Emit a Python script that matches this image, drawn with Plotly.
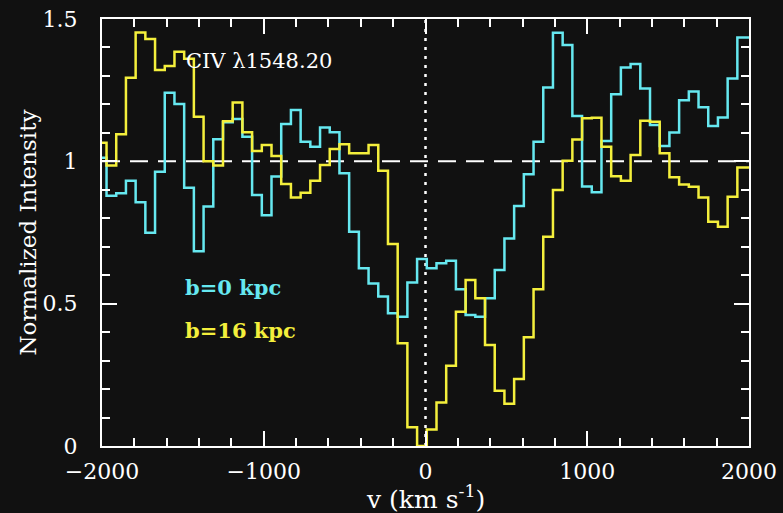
import plotly.graph_objects as go

# Left bin edges (km/s) of the spectral bins
v_edges = [-2000, -1972, -1912, -1852, -1792, -1732, -1672, -1612, -1552, -1492,
           -1432, -1372, -1312, -1252, -1192, -1132, -1072, -1012, -952, -892,
           -832, -772, -712, -652, -592, -532, -472, -412, -352, -292,
           -232, -172, -112, -52, 8, 68, 128, 188, 248, 308,
           368, 428, 488, 548, 608, 668, 728, 788, 848, 908,
           968, 1028, 1088, 1148, 1208, 1268, 1328, 1388, 1448, 1508,
           1568, 1628, 1688, 1748, 1808, 1868, 1928]
v_end = 2000

# b = 0 kpc (cyan)
flux_b0 = [1.013, 0.879, 0.888, 0.932, 0.856, 0.749, 0.963, 1.241, 1.201, 0.907,
           0.684, 0.841, 1.078, 1.137, 1.149, 1.086, 0.882, 0.811, 0.947, 1.131,
           1.180, 1.069, 1.051, 1.119, 1.102, 0.958, 0.753, 0.624, 0.571, 0.525,
           0.466, 0.454, 0.574, 0.657, 0.624, 0.642, 0.651, 0.551, 0.460, 0.454,
           0.519, 0.618, 0.729, 0.843, 0.955, 1.069, 1.259, 1.452, 1.409, 1.159,
           0.912, 0.891, 1.071, 1.236, 1.330, 1.342, 1.256, 1.128, 1.054, 1.101,
           1.215, 1.245, 1.190, 1.124, 1.154, 1.291, 1.435]

# b = 16 kpc (yellow)
flux_b16 = [1.065, 0.985, 1.095, 1.294, 1.453, 1.430, 1.321, 1.335, 1.385, 1.360,
            1.157, 1.000, 0.985, 1.141, 1.207, 1.102, 1.036, 1.057, 1.019, 0.920,
            0.873, 0.890, 0.932, 0.987, 1.043, 1.060, 1.028, 1.028, 1.057, 0.967,
            0.710, 0.361, 0.066, 0.0, 0.058, 0.153, 0.282, 0.472, 0.583, 0.519,
            0.355, 0.194, 0.148, 0.235, 0.382, 0.551, 0.735, 0.899, 1.002, 1.077,
            1.151, 1.153, 1.051, 0.948, 0.932, 1.022, 1.143, 1.139, 1.028, 0.944,
            0.919, 0.911, 0.873, 0.788, 0.770, 0.876, 0.978]

x_ticks = [-2000, -1000, 0, 1000, 2000]
y_ticks = [0, 0.5, 1, 1.5]
y_ticktext = ["0", "0.5", "1", "1.5"]

BG = "#111111"
CYAN = "#66E8F0"
YELLOW = "#F4EF3C"
FONT = "DejaVu Serif"

fig = go.Figure()

# reference lines
fig.add_trace(go.Scatter(x=[-2000, 2000], y=[1, 1], mode="lines",
                         line=dict(color="white", width=2, dash="18px,10px"),
                         hoverinfo="skip", showlegend=False))
fig.add_trace(go.Scatter(x=[0, 0], y=[0, 1.5], mode="lines",
                         line=dict(color="white", width=2.5, dash="3px,6px"),
                         hoverinfo="skip", showlegend=False))

fig.add_trace(go.Scatter(x=v_edges + [v_end], y=flux_b0 + [flux_b0[-1]],
                         mode="lines", line=dict(color=CYAN, width=2.5, shape="hv"),
                         name="b=0 kpc", showlegend=False))
fig.add_trace(go.Scatter(x=v_edges + [v_end], y=flux_b16 + [flux_b16[-1]],
                         mode="lines", line=dict(color=YELLOW, width=2.5, shape="hv"),
                         name="b=16 kpc", showlegend=False))

axis_common = dict(showgrid=False, zeroline=False, showline=True, linecolor="white",
                   linewidth=2, mirror="allticks", ticks="inside", tickcolor="white",
                   tickwidth=2, ticklen=15,
                   tickfont=dict(family=FONT, size=22, color="white"))

fig.update_xaxes(range=[-2000, 2000], tickvals=x_ticks, ticklabelstandoff=5,
                 minor=dict(dtick=200, ticks="inside", ticklen=8, tickwidth=2,
                            tickcolor="white", showgrid=False),
                 **axis_common)
fig.update_yaxes(range=[0, 1.5], tickvals=y_ticks, ticktext=y_ticktext,
                 ticklabelstandoff=18,
                 minor=dict(dtick=0.1, ticks="inside", ticklen=8, tickwidth=2,
                            tickcolor="white", showgrid=False),
                 **axis_common)

fig.update_layout(
    width=783, height=513,
    margin=dict(l=102, r=34, t=19, b=67, autoexpand=False),
    paper_bgcolor=BG, plot_bgcolor=BG,
    showlegend=False,
    annotations=[
        dict(text="CIV λ1548.20", x=-1495, y=1.352, xref="x", yref="y",
             xanchor="left", yanchor="middle", showarrow=False,
             font=dict(family=FONT, size=21, color="white")),
        dict(text="<b>b=0 kpc</b>", x=-1500, y=0.558, xref="x", yref="y",
             xanchor="left", yanchor="middle", showarrow=False,
             font=dict(family=FONT, size=21, color=CYAN)),
        dict(text="<b>b=16 kpc</b>", x=-1500, y=0.407, xref="x", yref="y",
             xanchor="left", yanchor="middle", showarrow=False,
             font=dict(family=FONT, size=21, color=YELLOW)),
        dict(text="Normalized Intensity", x=0, y=0.5, xref="paper", yref="paper",
             xshift=-75, textangle=-90, xanchor="center", yanchor="middle",
             showarrow=False, font=dict(family=FONT, size=23, color="white")),
        dict(text="v (km s<sup>-1</sup>)", x=0.5, y=0, xref="paper", yref="paper",
             yshift=-51, xanchor="center", yanchor="middle",
             showarrow=False, font=dict(family=FONT, size=25, color="white")),
    ],
)

fig.write_html(
    "out.html",
    config={"displayModeBar": False},
    post_script="document.body.style.margin='0';"
                "document.body.style.padding='0';"
                "document.body.style.background='#111111';"
                "document.documentElement.style.background='#111111';"
                "document.body.style.overflow='hidden';",
)
